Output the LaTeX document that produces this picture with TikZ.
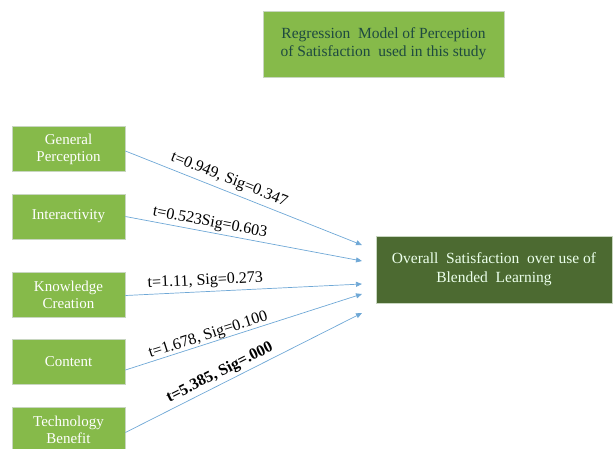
\documentclass[tikz,border=0pt]{standalone}
\usepackage{fontspec}
\setmainfont{Liberation Serif}
\usetikzlibrary{arrows.meta}
\definecolor{lgreen}{HTML}{86BA4A}
\definecolor{dgreen}{HTML}{4C6A31}
\definecolor{ttext}{HTML}{1E4A40}
\definecolor{arrowblue}{HTML}{6FA8D6}
\definecolor{boxedge}{HTML}{C8D6C0}
\tikzset{
  factor/.style={draw=boxedge, line width=0.8pt, fill=lgreen, text=white, align=center,
    minimum width=113pt, minimum height=45pt, inner sep=2pt,
    font=\fontsize{15}{17}\selectfont},
  titlebox/.style={draw=boxedge, line width=0.6pt, fill=lgreen, text=ttext, align=center,
    minimum width=241pt, minimum height=66pt, inner sep=2pt,
    font=\fontsize{15.5}{18}\selectfont},
  outcome/.style={draw=boxedge, line width=0.6pt, fill=dgreen, text=white!92!green, align=center,
    minimum width=236pt, minimum height=67pt, inner sep=2pt,
    font=\fontsize{15.5}{19}\selectfont},
  link/.style={draw=arrowblue, line width=0.7pt, -{Triangle[length=6pt,width=5pt]}},
  lab/.style={font=\fontsize{16}{18}\selectfont, sloped, above, inner sep=1pt}
}
\begin{document}
\begin{tikzpicture}[x=1pt,y=-1pt]
\useasboundingbox (0,0) rectangle (616,448);
\clip (0,0) rectangle (616,448);
\node[titlebox] (title) at (383.5,44) {Regression\ \ Model of Perception\\of Satisfaction\ \ used in this study};
\node[factor] (gp) at (68.5,149) {General\\Perception};
\node[factor] (ia) at (68.5,216.5) {Interactivity};
\node[factor] (kc) at (68.5,294.5) {Knowledge\\Creation};
\node[factor] (ct) at (68.5,362) {Content};
\node[factor] (tb) at (68.5,429.5) {Technology\\Benefit};
\node[outcome] (os) at (494,269.5) {Overall\ \ Satisfaction\ \ over use of\\Blended\ \ Learning};
\coordinate (t1) at (362,245);
\coordinate (t2) at (362,261);
\coordinate (t3) at (362,284);
\coordinate (t4) at (362,294);
\coordinate (t5) at (362,313);
\draw[link] ([yshift=-2pt]gp.east) -- node[lab, pos=0.42, yshift=3pt] {t=0.949, Sig=0.347} (t1);
\draw[link] (ia.east) -- node[lab, pos=0.35, yshift=1pt] {t=0.523Sig=0.603} (t2);
\draw[link] ([yshift=-1pt]kc.east) -- node[lab, pos=0.34, yshift=2pt] {t=1.11, Sig=0.273} (t3);
\draw[link] ([yshift=-8pt]ct.east) -- node[lab, pos=0.36, yshift=-1pt] {t=1.678, Sig=0.100} (t4);
\draw[link] ([yshift=-3pt]tb.east) -- node[lab, pos=0.42, yshift=2pt, font=\fontsize{16}{18}\selectfont\bfseries] {t=5.385, Sig=.000} (t5);
\end{tikzpicture}
\end{document}
